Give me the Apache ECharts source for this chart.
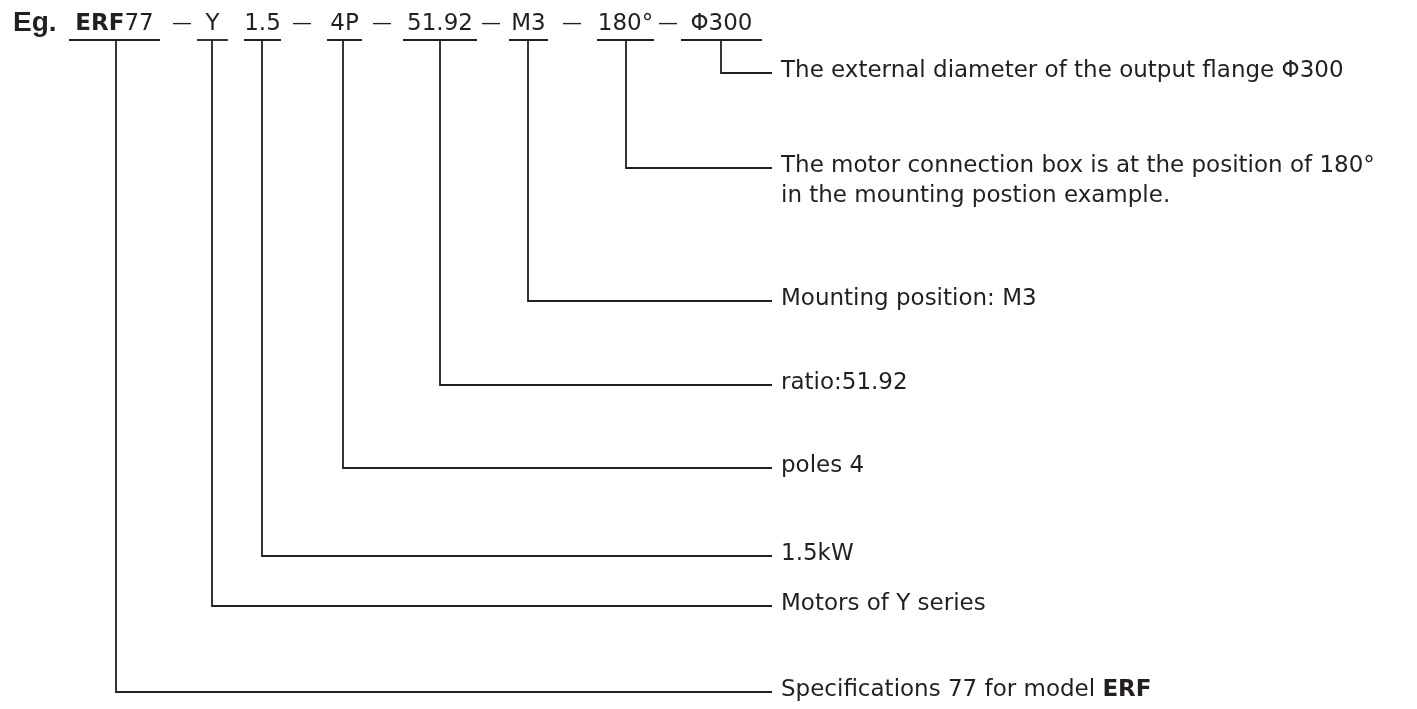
<!DOCTYPE html>
<html>
<head>
<meta charset="utf-8">
<script src="https://cdn.jsdelivr.net/npm/echarts@6/dist/echarts.min.js"></script>
<style>
  html, body { margin: 0; padding: 0; background: #ffffff; }
  #main { width: 1417px; height: 709px; }
</style>
</head>
<body>
<div id="main"></div>
<script>
// model code parts, left to right
var codes = ['{b|ERF}77', 'Y', '1.5', '4P', '51.92', 'M3', '180°', 'Φ300'];
// separators between code parts (none between Y and 1.5)
var separators = ['—', '', '—', '—', '—', '—', '—'];
// what each part means
var descriptions = [
  'Specifications 77 for model {b|ERF}',
  'Motors of Y series',
  '1.5kW',
  'poles 4',
  'ratio:51.92',
  'Mounting position: M3',
  'The motor connection box is at the position of 180°\nin the mounting postion example.',
  'The external diameter of the output flange Φ300'
];

// layout (pixel units of the hidden axes)
var codeLeft = [69, 197, 244, 327, 403, 509, 597, 681];
var codeRight = [160, 228, 281, 362, 477, 548, 654, 762];
var dropX = [116, 212, 262, 343, 440, 528, 626, 721];
var rowY = [692, 606, 556, 468, 385, 301, 168, 73];
var sepX = [182, 0, 302, 382, 491, 572, 668];
var underlineY = 40;
var codeY = 24;
var lineEnd = 772;
var descX = 781;
var lineH = 30;

var ink = '#231f20';
var font = 'DejaVu Sans';

var myChart = echarts.init(document.getElementById('main'));
var option = {
  animation: false,
  backgroundColor: '#ffffff',
  title: {
    text: 'Eg.',
    left: 8,
    top: 4,
    textStyle: { color: ink, fontSize: 28, fontWeight: 'bold', fontFamily: 'Liberation Sans' }
  },
  grid: { left: 0, right: 0, top: 0, bottom: 0 },
  xAxis: { type: 'value', min: 0, max: 1417, show: false },
  yAxis: { type: 'value', min: 0, max: 709, inverse: true, show: false },
  series: [{
    type: 'custom',
    data: codes.map(function (c, i) { return [i]; }),
    renderItem: function (params, api) {
      var i = params.dataIndex;
      var ul0 = api.coord([codeLeft[i], underlineY]);
      var ul1 = api.coord([codeRight[i], underlineY]);
      var mid = api.coord([(codeLeft[i] + codeRight[i]) / 2, codeY]);
      var top = api.coord([dropX[i], underlineY]);
      var corner = api.coord([dropX[i], rowY[i]]);
      var end = api.coord([lineEnd, rowY[i]]);
      var txt = api.coord([descX, rowY[i] - 2]);
      var lineStyle = { stroke: ink, lineWidth: 1.8, fill: null };
      return {
        type: 'group',
        children: [{
          type: 'line',
          shape: { x1: ul0[0], y1: ul0[1], x2: ul1[0], y2: ul1[1] },
          style: lineStyle
        }, {
          type: 'text',
          x: mid[0], y: mid[1],
          style: {
            text: codes[i], fill: ink, font: '23px "' + font + '"',
            align: 'center', verticalAlign: 'middle',
            rich: { b: { fontWeight: 'bold', fontSize: 23, fontFamily: font, fill: ink } }
          }
        }, {
          type: 'polyline',
          shape: { points: [top, corner, end] },
          style: lineStyle
        }, {
          type: 'text',
          x: txt[0], y: txt[1] - lineH / 2,
          style: {
            text: descriptions[i], fill: ink, font: '23px "' + font + '"',
            align: 'left', verticalAlign: 'top', lineHeight: lineH,
            rich: { b: { fontWeight: 'bold', fontSize: 23, fontFamily: font, fill: ink, lineHeight: lineH } }
          }
        }]
      };
    }
  }, {
    type: 'custom',
    data: separators.map(function (s, i) { return [i]; }),
    renderItem: function (params, api) {
      var i = params.dataIndex;
      if (!separators[i]) return null;
      var p = api.coord([sepX[i], codeY]);
      return {
        type: 'text',
        x: p[0], y: p[1],
        style: {
          text: separators[i], fill: ink, font: '20px "' + font + '"',
          align: 'center', verticalAlign: 'middle'
        }
      };
    }
  }]
};
myChart.setOption(option);
</script>
</body>
</html>
